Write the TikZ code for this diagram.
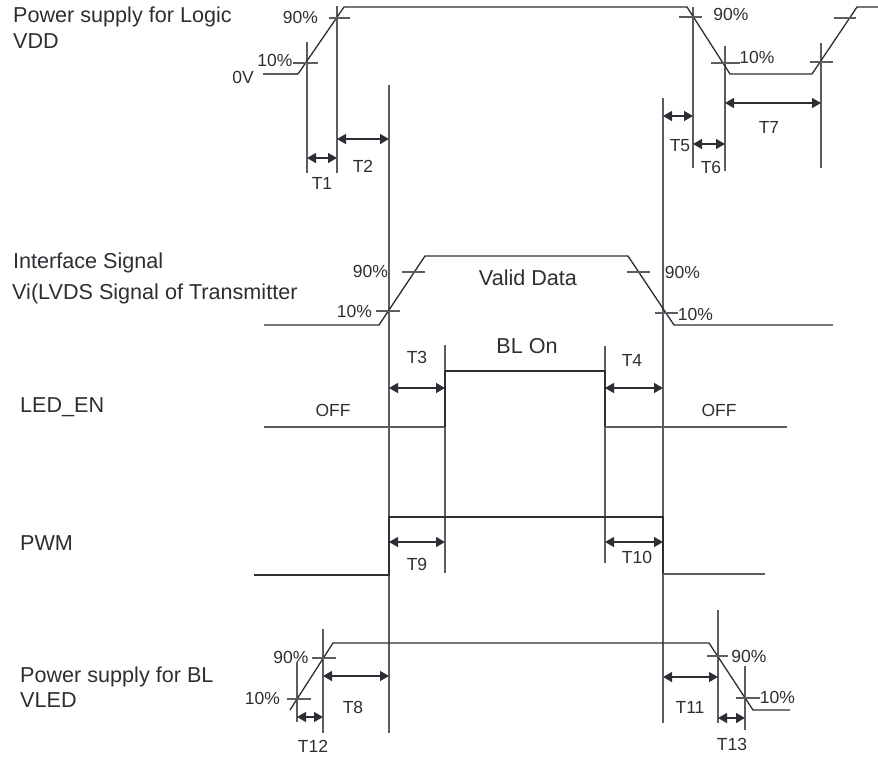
\documentclass[tikz,border=0pt]{standalone}
\usepackage{fontspec}
\setmainfont{Liberation Sans}
\usetikzlibrary{arrows.meta}
\definecolor{wavec}{HTML}{2B2F33}
\definecolor{refc}{HTML}{5A5E62}
\definecolor{dimc}{HTML}{2B2F33}
\definecolor{txtc}{HTML}{2B2F33}
\begin{document}
\begin{tikzpicture}[x=1pt,y=-1pt,
  wave/.style={draw=wavec, line width=1.3pt, line join=miter},
  refl/.style={draw=refc, line width=1.3pt},
  dimarrow/.style={draw=dimc, line width=1.4pt,
    {Triangle[length=9pt,width=10pt]}-{Triangle[length=9pt,width=10pt]}},
  big/.style={font=\fontsize{21.6}{26}\selectfont, text=txtc, inner sep=0pt},
  small/.style={font=\fontsize{17.5}{21}\selectfont, text=txtc, inner sep=0pt},
]
\useasboundingbox (0,0) rectangle (878,758);

% ---------------- left labels ----------------
\node[big, anchor=base west] (lvdd1) at (13,22) {Power supply for Logic};
\node[big, anchor=base west] (lvdd2) at (13,48) {VDD};
\node[big, anchor=base west] (lif1) at (13,268) {Interface Signal};
\node[big, anchor=base west] (lif2) at (12,299) {Vi(LVDS Signal of Transmitter};
\node[big, anchor=base west] (lled) at (20,412) {LED\_EN};
\node[big, anchor=base west] (lpwm) at (20,550) {PWM};
\node[big, anchor=base west] (lbl1) at (20,682) {Power supply for BL};
\node[big, anchor=base west] (lbl2) at (20,707) {VLED};

% ---------------- reference (vertical) lines ----------------
\coordinate (xa1) at (307,42);  \coordinate (xa2) at (307,173);
\coordinate (xb1) at (337,6);   \coordinate (xb2) at (337,173);
\coordinate (xc1) at (389,85);  \coordinate (xc2) at (389,733);
\coordinate (xd1) at (663,98);  \coordinate (xd2) at (663,723);
\coordinate (xe1) at (693,7);   \coordinate (xe2) at (693,168);
\coordinate (xf1) at (725,46);  \coordinate (xf2) at (725,171);
\coordinate (xg1) at (821,43);  \coordinate (xg2) at (821,168);
\coordinate (xh1) at (445,345); \coordinate (xh2) at (445,573);
\coordinate (xi1) at (605,346); \coordinate (xi2) at (605,563);
\coordinate (xj1) at (323,629); \coordinate (xj2) at (323,733);
\coordinate (xk1) at (297,663); \coordinate (xk2) at (297,722);
\coordinate (xl1) at (718,610); \coordinate (xl2) at (718,723);
\coordinate (xm1) at (745,666); \coordinate (xm2) at (745,730);
\foreach \n in {xa,xb,xc,xd,xe,xf,xg,xh,xi,xj,xk,xl,xm}
  \draw[refl] (\n1) -- (\n2);

% ---------------- VDD ----------------
\draw[refl] (263,74) -- (298,74);
\draw[wave] (298,74) -- (344,7) -- (687,7) -- (730,74)
  -- (812,74) -- (857,7) -- (878,7);
\draw[refl] (293,63) -- (318,63);
\draw[refl] (329,18) -- (350,18);
\draw[refl] (679,17) -- (702,17);
\draw[refl] (711,63) -- (740,63);
\draw[refl] (810,62) -- (833,62);
\draw[refl] (834,18) -- (856,18);
\node[small] (p1) at (300.5,17) {90\%};
\node[small] (p2) at (275,60) {10\%};
\node[small] (p0) at (243,77) {0V};
\node[small] (p3) at (731,14) {90\%};
\node[small] (p4) at (757,57) {10\%};

% ---------------- Interface signal ----------------
\draw[wave] (264,325) -- (379,325) -- (425,256) -- (628,256) -- (674,325) -- (833,325);
\draw[refl] (402,272) -- (425,272);
\draw[refl] (627,272) -- (650,272);
\draw[refl] (376,311) -- (400,311);
\draw[refl] (655,313) -- (678,313);
\node[small] (p5) at (370.5,271) {90\%};
\node[small] (p6) at (354.5,311) {10\%};
\node[small] (p7) at (682.5,272) {90\%};
\node[small] (p8) at (695.5,314) {10\%};
\node[big] (vd) at (528,278) {Valid Data};

% ---------------- LED_EN ----------------
\draw[refl] (264,427) -- (445,427);
\draw[wave] (445,427) -- (445,371) -- (605,371) -- (605,427);
\draw[refl] (605,427) -- (787,427);
\node[big] (blon) at (527,346) {BL On};
\node[small] (off1) at (333,410) {OFF};
\node[small] (off2) at (719,410) {OFF};

% ---------------- PWM ----------------
\draw[wave] (254,575) -- (389,575) -- (389,517) -- (663,517) -- (663,574);
\draw[refl] (663,574) -- (765,574);

% ---------------- VLED ----------------
\draw[wave] (290,710) -- (333,643) -- (709,643) -- (753,710) -- (790,710);
\draw[refl] (312,658) -- (336,658);
\draw[refl] (287,699) -- (311,699);
\draw[refl] (707,656) -- (728,656);
\draw[refl] (736,698) -- (760,698);
\node[small] (p9) at (291,657) {90\%};
\node[small] (p10) at (262.5,698) {10\%};
\node[small] (p11) at (749,656) {90\%};
\node[small] (p12) at (777.5,697) {10\%};

% ---------------- timing dimensions ----------------
\foreach \a/\b/\y/\lx/\ly/\t in {
  307/337/158/322/183/T1,
  337/389/139/363/166/T2,
  663/693/116/680/146/T5,
  693/725/144/711/167/T6,
  725/821/103/769/127/T7,
  389/445/388/417/357/T3,
  605/663/388/632/360/T4,
  389/445/542/417/564/T9,
  605/663/542/637/557/T10,
  323/389/676/353/707/T8,
  663/718/677/690/707/T11,
  297/323/717/313/746/T12,
  718/745/718/732/744/T13}{
  \coordinate (s\t) at (\a,\y);
  \coordinate (e\t) at (\b,\y);
  \draw[dimarrow] (s\t) -- (e\t);
  \node[small] (l\t) at (\lx,\ly) {\t};
}
\end{tikzpicture}
\end{document}
